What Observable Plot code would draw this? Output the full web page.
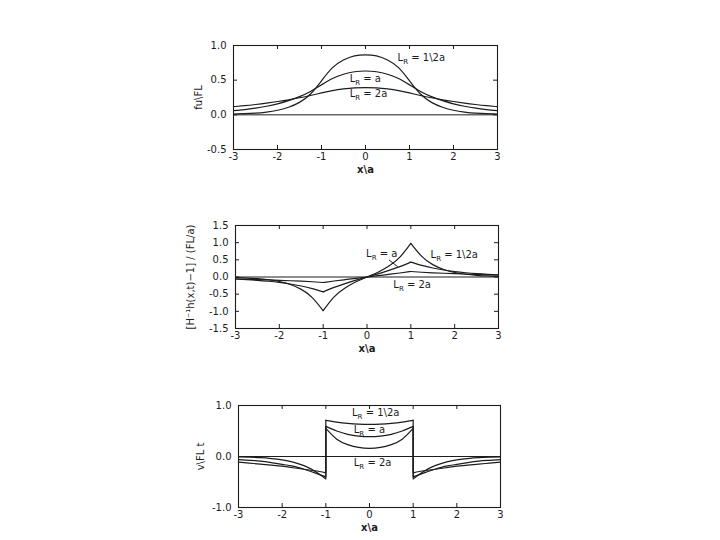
<!DOCTYPE html>
<html><head><meta charset="utf-8">
<script src="https://cdn.jsdelivr.net/npm/d3@7"></script>
<script src="https://cdn.jsdelivr.net/npm/@observablehq/plot@0.6"></script>
<style>
body{margin:0;background:#fff;width:720px;height:540px;position:relative;overflow:hidden;font-family:"DejaVu Sans",sans-serif}
.panel{position:absolute;left:0}
.panel svg{overflow:visible}
</style></head><body>
<div id="p1" class="panel" style="top:25px"></div>
<div id="p2" class="panel" style="top:205px"></div>
<div id="p3" class="panel" style="top:385px"></div>
<script>
// ---------- data ----------
const xTickValues = [-3, -2, -1, 0, 1, 2, 3];
const xInnerTicks = [-2, -1, 0, 1, 2];
const seriesNames = ["LR=1/2a", "LR=a", "LR=2a"];

// panel 1 : fu\FL
const xsFull = [-3,-2.75,-2.5,-2.25,-2,-1.75,-1.5,-1.25,-1,-0.75,-0.5,-0.25,0,0.25,0.5,0.75,1,1.25,1.5,1.75,2,2.25,2.5,2.75,3];
const f05 = [0.012,0.016,0.024,0.04,0.066,0.11,0.18,0.30,0.49,0.68,0.79,0.85,0.865,0.85,0.79,0.68,0.49,0.30,0.18,0.11,0.066,0.04,0.024,0.016,0.012];
const f1  = [0.06,0.075,0.096,0.124,0.159,0.204,0.262,0.337,0.432,0.524,0.585,0.621,0.632,0.621,0.585,0.524,0.432,0.337,0.262,0.204,0.159,0.124,0.096,0.075,0.06];
const f2  = [0.118,0.132,0.149,0.169,0.192,0.217,0.246,0.279,0.316,0.35,0.374,0.389,0.393,0.389,0.374,0.35,0.316,0.279,0.246,0.217,0.192,0.169,0.149,0.132,0.118];
const yTicks1 = [-0.5, 0, 0.5, 1.0];

// segments for panels 2 and 3
const xsLeft  = [-3,-2.75,-2.5,-2.25,-2,-1.75,-1.5,-1.25,-1];
const xsInner = [-1,-0.75,-0.5,-0.25,0,0.25,0.5,0.75,1];
const xsRight = [1,1.25,1.5,1.75,2,2.25,2.5,2.75,3];

// panel 2
const h05Left  = [-0.02,-0.03,-0.05,-0.08,-0.13,-0.22,-0.36,-0.60,-0.98];
const h05Inner = [-0.98,-0.58,-0.32,-0.14,0,0.14,0.32,0.58,0.98];
const h05Right = [0.98,0.60,0.36,0.22,0.13,0.08,0.05,0.03,0.02];
const h1Left   = [-0.058,-0.075,-0.096,-0.124,-0.159,-0.204,-0.262,-0.337,-0.432];
const h1Inner  = [-0.432,-0.303,-0.192,-0.093,0,0.093,0.192,0.303,0.432];
const h1Right  = [0.432,0.337,0.262,0.204,0.159,0.124,0.096,0.075,0.058];
const h2Left   = [-0.058,-0.066,-0.075,-0.085,-0.096,-0.109,-0.123,-0.139,-0.16];
const h2Inner  = [-0.16,-0.116,-0.077,-0.038,0,0.038,0.077,0.116,0.16];
const h2Right  = [0.16,0.139,0.123,0.109,0.096,0.085,0.075,0.066,0.058];
const yTicks2 = [-1.5, -1.0, -0.5, 0, 0.5, 1.0, 1.5];

// panel 3
const v05Left  = [-0.01,-0.015,-0.024,-0.04,-0.066,-0.11,-0.18,-0.29,-0.44];
const v05Inner = [0.55,0.34,0.234,0.178,0.16,0.178,0.234,0.34,0.55];
const v05Right = [-0.44,-0.29,-0.18,-0.11,-0.066,-0.04,-0.024,-0.015,-0.01];
const v1Left   = [-0.06,-0.075,-0.09,-0.12,-0.155,-0.19,-0.25,-0.32,-0.40];
const v1Inner  = [0.59,0.50,0.435,0.40,0.39,0.40,0.435,0.50,0.59];
const v1Right  = [-0.40,-0.32,-0.25,-0.19,-0.155,-0.12,-0.09,-0.075,-0.06];
const v2Left   = [-0.11,-0.13,-0.15,-0.17,-0.19,-0.22,-0.25,-0.28,-0.32];
const v2Inner  = [0.71,0.675,0.65,0.635,0.63,0.635,0.65,0.675,0.71];
const v2Right  = [-0.32,-0.28,-0.25,-0.22,-0.19,-0.17,-0.15,-0.13,-0.11];
const yTicks3 = [-1.0, 0, 1.0];

// annotation labels
const labels1 = [
  {x: 0.73, y: 0.82, text: "L_R = 1\\2a"},
  {x: -0.36, y: 0.52, text: "L_R = a"},
  {x: -0.36, y: 0.31, text: "L_R = 2a"}
];
const labels2 = [
  {x: -0.02, y: 0.68, text: "L_R = a"},
  {x: 1.45, y: 0.64, text: "L_R = 1\\2a"},
  {x: 0.6, y: -0.22, text: "L_R = 2a"}
];
const leader2 = [{x1: 0.5, y1: 0.5, x2: 0.7, y2: 0.3}];
const labels3 = [
  {x: -0.4, y: 0.85, text: "L_R = 1\\2a"},
  {x: -0.36, y: 0.53, text: "L_R = a"},
  {x: -0.36, y: -0.12, text: "L_R = 2a"}
];

// ---------- helpers ----------
const INK = "#1c1c1c";
const FONT = "'DejaVu Sans', sans-serif";
const TICK_PX = 4;

function rows(xs, ys, series, seg) {
  return xs.map((x, i) => ({x, y: ys[i], series, z: series + seg}));
}
function segRows(sets) {
  const out = [];
  sets.forEach(([name, L, I, R]) => {
    out.push(...rows(xsLeft, L, name, "L"), ...rows(xsInner, I, name, "I"), ...rows(xsRight, R, name, "R"));
  });
  return out;
}

function subscriptify(svg) {
  d3.select(svg).selectAll("text").each(function() {
    const t = this.textContent;
    if (t.startsWith("L_R")) {
      const rest = t.slice(3);
      const sel = d3.select(this);
      sel.text(null);
      sel.append("tspan").text("L");
      sel.append("tspan").attr("dy", "3").attr("font-size", "7px").text("R");
      sel.append("tspan").attr("dy", "-3").text(rest);
    }
  });
}

function panel({el, height, mt, mb, ml, mr, yDomain, yTicks, lineData, curve, extra, labels, ylabel, ylabelDx, ylabelSize}) {
  const plotH = height - mt - mb, plotW = 720 - ml - mr;
  const [y0, y1] = yDomain;
  const ty = (y1 - y0) * TICK_PX / plotH;
  const tx = 6 * TICK_PX / plotW;
  const innerY = yTicks.filter(v => v > y0 && v < y1);
  const chart = Plot.plot({
    width: 720, height,
    marginTop: mt, marginBottom: mb, marginLeft: ml, marginRight: mr,
    style: {fontFamily: FONT, fontSize: "10px", color: INK, background: "transparent"},
    x: {domain: [-3, 3], label: null},
    y: {domain: yDomain, label: null},
    marks: [
      Plot.frame({stroke: INK, strokeWidth: 1.1}),
      Plot.ruleY([0], {stroke: INK, strokeWidth: 1}),
      Plot.axisX(xTickValues, {anchor: "bottom", tickSize: 0, tickPadding: 3, tickFormat: d => String(d), label: null}),
      Plot.axisY(yTicks, {anchor: "left", tickSize: 0, tickPadding: 7, tickFormat: d => d.toFixed(1), label: null}),
      // inward tick marks on all four sides
      Plot.ruleX(xInnerTicks, {x: d => d, y1: y0, y2: y0 + ty, stroke: INK}),
      Plot.ruleX(xInnerTicks, {x: d => d, y1: y1, y2: y1 - ty, stroke: INK}),
      Plot.ruleY(innerY, {y: d => d, x1: -3, x2: -3 + tx, stroke: INK}),
      Plot.ruleY(innerY, {y: d => d, x1: 3, x2: 3 - tx, stroke: INK}),
      Plot.line(lineData, {x: "x", y: "y", z: "z", curve, stroke: INK, strokeWidth: 1.2}),
      ...extra,
      Plot.text(labels, {x: "x", y: "y", text: "text", textAnchor: "start", fontSize: 10, fill: INK}),
      Plot.text([ylabel], {text: d => d, frameAnchor: "left", textAnchor: "middle", rotate: -90, dx: ylabelDx, fontSize: ylabelSize, fill: INK}),
      Plot.text(["x\\a"], {text: d => d, frameAnchor: "bottom", textAnchor: "middle", dy: 23, fontSize: 10, fill: INK, fontWeight: "bold"})
    ]
  });
  subscriptify(chart);
  document.getElementById(el).append(chart);
}

// ---------- panel 1 ----------
const data1 = [
  ...xsFull.map((x, i) => ({x, y: f05[i], z: seriesNames[0]})),
  ...xsFull.map((x, i) => ({x, y: f1[i], z: seriesNames[1]})),
  ...xsFull.map((x, i) => ({x, y: f2[i], z: seriesNames[2]}))
];
panel({el: "p1", height: 160, mt: 20, mb: 36, ml: 233, mr: 223,
  yDomain: [-0.5, 1.0], yTicks: yTicks1, lineData: data1, curve: "natural", extra: [],
  labels: labels1, ylabel: "fu\\FL", ylabelDx: -35, ylabelSize: 10});

// ---------- panel 2 ----------
const data2 = segRows([
  [seriesNames[0], h05Left, h05Inner, h05Right],
  [seriesNames[1], h1Left, h1Inner, h1Right],
  [seriesNames[2], h2Left, h2Inner, h2Right]
]);
panel({el: "p2", height: 160, mt: 20, mb: 37, ml: 235, mr: 222,
  yDomain: [-1.5, 1.5], yTicks: yTicks2, lineData: data2, curve: "natural",
  extra: [Plot.link(leader2, {x1: "x1", y1: "y1", x2: "x2", y2: "y2", stroke: INK, strokeWidth: 1})],
  labels: labels2, ylabel: "[H⁻¹h(x,t)−1] / (FL/a)", ylabelDx: -45, ylabelSize: 10});

// ---------- panel 3 ----------
const sets3 = [
  [seriesNames[0], v05Left, v05Inner, v05Right],
  [seriesNames[1], v1Left, v1Inner, v1Right],
  [seriesNames[2], v2Left, v2Inner, v2Right]
];
const data3 = segRows(sets3);
const jumps3 = [];
sets3.forEach(([name, L, I, R]) => {
  jumps3.push({x: xsInner[0], y1: L[L.length - 1], y2: I[0]});
  jumps3.push({x: xsInner[xsInner.length - 1], y1: R[0], y2: I[I.length - 1]});
});
panel({el: "p3", height: 155, mt: 20, mb: 33, ml: 238, mr: 220,
  yDomain: [-1.0, 1.0], yTicks: yTicks3, lineData: data3, curve: "natural",
  extra: [Plot.ruleX(jumps3, {x: "x", y1: "y1", y2: "y2", stroke: INK, strokeWidth: 1.2})],
  labels: labels3, ylabel: "v\\FL t", ylabelDx: -38, ylabelSize: 10});
</script>
</body></html>
